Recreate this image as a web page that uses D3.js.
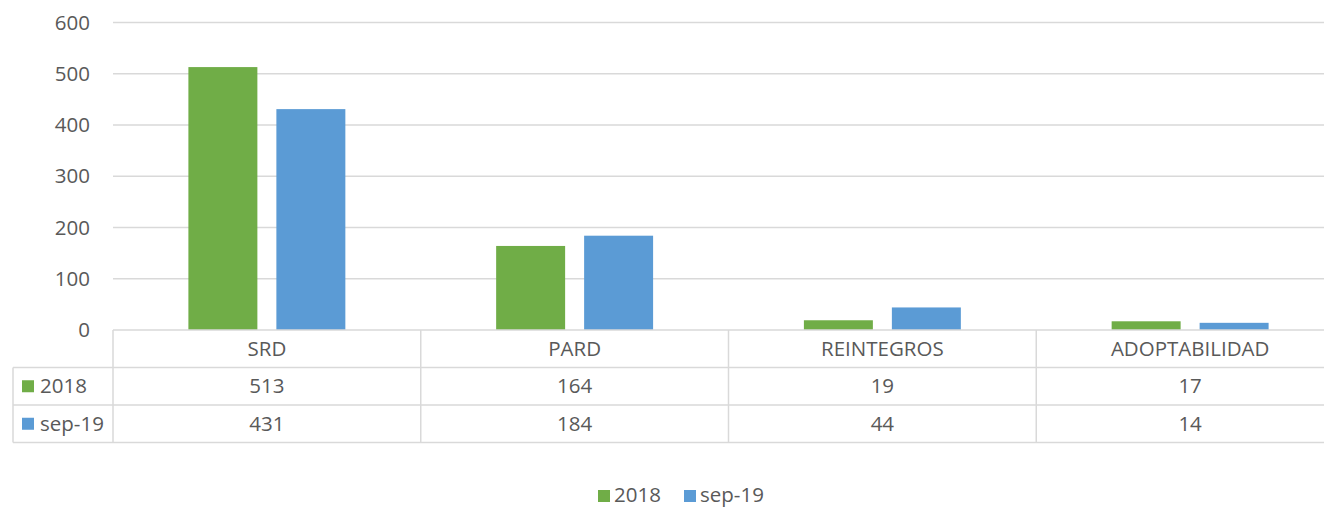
<!DOCTYPE html>
<html>
<head>
<meta charset="utf-8">
<style>
  body { margin: 0; background: #fff; }
  svg text { font-family: "Open Sans", "Liberation Sans", sans-serif; fill: #595959; font-size: 20.5px; }
</style>
</head>
<body>
<svg width="1324" height="508"></svg>
<script src="https://cdnjs.cloudflare.com/ajax/libs/d3/7.8.5/d3.min.js"></script>
<script>

var categories = ["SRD", "PARD", "REINTEGROS", "ADOPTABILIDAD"];
var seriesNames = ["2018", "sep-19"];
var values2018 = [513, 164, 19, 17];
var valuesSep19 = [431, 184, 44, 14];
var yTicks = [0, 100, 200, 300, 400, 500, 600];
var colors = ["#70AD47", "#5B9BD5"];

var series = [values2018, valuesSep19];

var svg = d3.select("svg"),
    plotLeft = 113, plotRight = 1344,
    plotTop = 22.5, plotBottom = 330,
    rowH = 37.5;

var x = d3.scaleBand().domain(categories).range([plotLeft, plotRight]);
var xs = d3.scaleBand().domain(seriesNames).range([0, x.bandwidth()])
    .paddingInner(0.216).paddingOuter(0.857);   // ~69px bars, 19px gap
var y = d3.scaleLinear().domain([0, 600]).range([plotBottom, plotTop]);

// gridlines
svg.append("g").selectAll("line")
    .data(yTicks.filter(function(d) { return d > 0; }))
    .enter().append("line")
    .attr("x1", plotLeft).attr("x2", plotRight)
    .attr("y1", function(d) { return y(d); })
    .attr("y2", function(d) { return y(d); })
    .attr("stroke", "#D9D9D9").attr("stroke-width", 1.3);

// y labels
svg.append("g").selectAll("text")
    .data(yTicks)
    .enter().append("text")
    .attr("x", 90)
    .attr("y", function(d) { return y(d); })
    .attr("dy", "0.35em")
    .attr("text-anchor", "end")
    .text(function(d) { return d; });

// bars
series.forEach(function(vals, i) {
  svg.append("g").selectAll("rect")
      .data(vals)
      .enter().append("rect")
      .attr("x", function(d, j) { return x(categories[j]) + xs(seriesNames[i]); })
      .attr("width", xs.bandwidth())
      .attr("y", function(d) { return y(d); })
      .attr("height", function(d) { return plotBottom - y(d); })
      .attr("fill", colors[i]);
});

// data table
var tbl = svg.append("g").attr("stroke", "#D9D9D9").attr("stroke-width", 1.5);
tbl.append("line").attr("x1", plotLeft).attr("x2", plotRight).attr("y1", plotBottom).attr("y2", plotBottom);
[1, 2, 3].forEach(function(r) {
  tbl.append("line").attr("x1", 13).attr("x2", plotRight)
      .attr("y1", plotBottom + r * rowH).attr("y2", plotBottom + r * rowH);
});
tbl.append("line").attr("x1", 13).attr("x2", 13)
    .attr("y1", plotBottom + rowH).attr("y2", plotBottom + 3 * rowH);
categories.forEach(function(c) {
  tbl.append("line").attr("x1", x(c)).attr("x2", x(c))
      .attr("y1", plotBottom).attr("y2", plotBottom + 3 * rowH);
});

// category headers
svg.append("g").selectAll("text")
    .data(categories)
    .enter().append("text")
    .attr("x", function(d) { return x(d) + x.bandwidth() / 2; })
    .attr("y", plotBottom + rowH / 2)
    .attr("dy", "0.35em")
    .attr("text-anchor", "middle")
    .text(function(d) { return d; });

// rows
series.forEach(function(vals, i) {
  var cy = plotBottom + (i + 1.5) * rowH;
  svg.append("rect").attr("x", 22).attr("y", cy - 6).attr("width", 12).attr("height", 12)
      .attr("fill", colors[i]);
  svg.append("text").attr("x", 40).attr("y", cy).attr("dy", "0.35em")
      .text(seriesNames[i]);
  svg.append("g").selectAll("text")
      .data(vals)
      .enter().append("text")
      .attr("x", function(d, j) { return x(categories[j]) + x.bandwidth() / 2; })
      .attr("y", cy)
      .attr("dy", "0.35em")
      .attr("text-anchor", "middle")
      .text(function(d) { return d; });
});

// legend
var legendX = [598, 684];
seriesNames.forEach(function(s, i) {
  svg.append("rect").attr("x", legendX[i]).attr("y", 490).attr("width", 12).attr("height", 12)
      .attr("fill", colors[i]);
  svg.append("text").attr("x", legendX[i] + 16).attr("y", 495).attr("dy", "0.35em")
      .text(s);
});

</script>
</body>
</html>
